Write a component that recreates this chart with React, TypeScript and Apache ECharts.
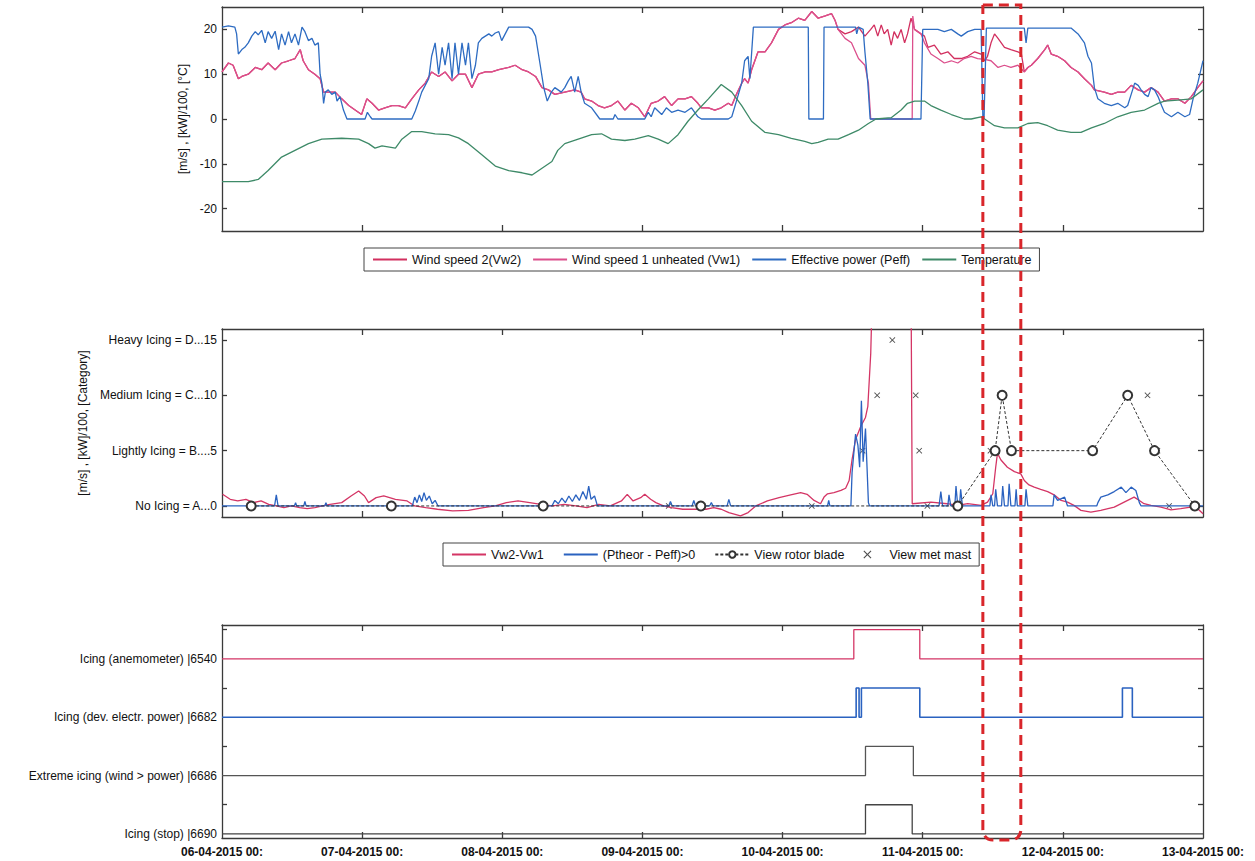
import React, { useEffect, useRef } from 'react';
import * as echarts from 'echarts';

// ---------- data (time in hours since 06-04-2015 00:00) ----------
const dayTicks = [0, 24, 48, 72, 96, 120, 144, 168];
const dayLabels = ['06-04-2015 00:', '07-04-2015 00:', '08-04-2015 00:', '09-04-2015 00:', '10-04-2015 00:', '11-04-2015 00:', '12-04-2015 00:', '13-04-2015 00:'];

const vw2Top = [[0,10.5],[1.1,12.5],[1.9,12],[2.8,9],[3.4,9.5],[4.5,10],[5.7,11.5],[6.8,11],[7.9,12.5],[9.1,11],[10.2,12.5],[11.4,13],[12.5,13.5],[13.4,15.5],[13.9,13],[14.8,11],[15.9,10],[16.8,9],[17.4,6],[18.2,6],[19.4,6],[20.5,4.5],[21.7,3],[22.8,2],[23.9,1],[24.8,4.5],[25.7,3.5],[26.8,2],[27.9,2.5],[29.1,3],[30.2,3],[31.4,2.5],[32.5,4.5],[33.7,6.5],[34.8,8],[35.9,10.5],[37.1,9.5],[38.2,10.5],[39.4,8.5],[40.5,10],[41.7,10],[42.8,7],[43.9,10],[45.1,10.5],[46.2,10.5],[47.4,11],[49.1,11.5],[50.2,12],[51.4,11],[52.5,10.5],[53.7,9.5],[54.8,7],[55.9,6.5],[57,5.5],[58.7,6],[60.4,6.5],[61.5,6],[62.1,4.5],[63.3,4],[64.4,3],[65.5,2.5],[66.7,3],[67.8,4],[69,2],[70.1,3.5],[71.3,2.5],[72.4,0.5],[73.5,3.5],[74.7,4],[75.8,5],[77,3],[78.1,4.5],[79.3,4.5],[80.4,5],[81.5,3.5],[82.1,2.5],[83.3,2.5],[84.4,2],[85.5,2.5],[86.7,3.5],[87.3,3],[88.1,5.5],[89,8],[89.5,9],[90.1,8],[90.7,11],[91.8,15],[93,15],[94.1,17],[95.3,20],[96.4,21],[97.5,21.5],[98.7,22.5],[99.8,22],[101,24],[102.1,22.5],[103.3,23],[104.4,23.5],[105,22],[105.5,20],[106.7,19],[107.8,19.5],[109,20.5],[110.1,18.5],[111.1,20],[111.7,21],[112.3,18.5],[112.9,21],[113.4,19],[114,20],[114.6,16.5],[115.1,19.5],[115.7,18],[116.3,20],[116.9,17],[117.4,19],[118,22.5],[118.6,20],[119.7,19],[120.3,18.5],[120.9,16],[122,16.5],[123.1,14.5],[124.3,15],[125.4,13.5],[126.6,13.5],[127.7,14],[128.9,15],[130,14.5],[130.6,13],[131.1,14],[131.7,17],[132.3,19],[132.9,18],[134,16],[135.1,15.5],[136.3,15],[136.9,14.5],[137.4,10.5],[138,11.5],[138.6,12],[139.7,13.5],[140.9,15.5],[141.4,16.5],[142,14.5],[143.1,14],[144.3,13],[145.4,11.5],[146.6,10.5],[147.7,9],[148.9,7.5],[149.4,6.5],[151.1,6],[152.3,5.5],[153.4,6],[154.6,6],[155.7,7.5],[156.9,6.5],[158,6],[159.1,7],[160.3,6],[161.4,4],[162.6,4.5],[163.7,4.5],[164.9,3.5],[166,5],[167.1,7],[168,8.5]];

// part of the unheated anemometer (Vw1) that departs from Vw2
const vw1Iced = [[105.5,20],[106.7,18],[107.8,17],[109,13.5],[110.1,12],[110.7,8],[111.1,0],[118.2,0],[118.3,23],[118.6,20],[119.7,19],[120.3,17],[121.4,14.5],[122.6,13.5],[123.7,12.5],[124.9,13],[126,12.5],[127.1,13.5],[128.3,14],[129.4,13.5],[130.6,13.3],[131.7,13],[132.9,11.5],[134,12],[135.1,11.5],[136.3,12],[137.4,10.5]];

const peffTop = [[0,20.5],[1.1,20.8],[2.2,20.5],[2.5,19],[2.8,14.5],[3.4,15.5],[3.9,16],[4.5,17],[5.1,18.5],[5.7,19.5],[6.2,18.8],[6.8,19.8],[7.4,17],[7.9,19.5],[8.5,18],[9.1,19.6],[9.7,15.5],[10.2,19],[10.8,16.5],[11.4,19.5],[11.9,17],[12.5,19],[13.1,16.5],[13.7,20.5],[14.2,19.5],[14.8,17.5],[15.4,18],[15.9,16.5],[16.5,17],[16.8,10],[17.1,8],[17.4,3.5],[17.7,6],[18.2,6.5],[18.8,5.5],[19.4,6],[19.7,4],[20.2,5],[20.8,2],[21.4,0],[24.5,0],[24.9,1.5],[25.4,0.5],[25.7,0],[32.5,0],[33.1,1.8],[33.7,4],[34.2,6],[34.8,7.5],[35.4,9],[35.9,14],[36.5,17],[37.1,10],[37.7,16],[38.2,12],[38.8,17],[39.4,9],[39.9,17],[40.5,10],[41.1,17],[41.7,12],[42.2,17],[42.8,9],[43.4,12],[43.9,17],[44.5,18],[45.1,18.5],[45.7,19],[46.2,18.5],[46.8,19.2],[47.4,19.5],[47.9,17.5],[49.1,20.5],[52.5,20.5],[53.1,20],[53.7,18.5],[54.5,12],[55.1,7],[55.7,4],[56.4,6],[57,7],[58.1,6],[58.7,7],[59.3,8.5],[59.8,9.5],[60.4,6],[61,9.5],[61.5,6],[62.1,3.5],[63.3,2.5],[64.7,0],[67,0],[67.3,1],[67.8,0],[72.4,0],[73,1.5],[73.5,0.5],[74.1,2.5],[75.3,1],[76.1,2.5],[77,1.5],[78.1,2],[79.3,1.5],[80.4,2.5],[81.5,0.5],[82.1,0],[86.7,0],[87.3,0.5],[88.1,4],[89,8],[89.5,13],[90.1,14],[90.4,9],[91,20.5],[100.4,20.5],[100.5,0],[103,0],[103.1,20.5],[108.5,20.5],[108.7,19],[109,20.5],[109.8,20],[110.1,15],[110.6,8],[111,0],[119.7,0],[120,20],[120.9,20],[122.6,20],[123.7,19.5],[124.9,20],[126,19],[126.6,18.5],[127.7,19.5],[128.9,20],[130,20],[130.3,0.5],[130.5,0],[130.9,20.3],[137.4,20.3],[137.7,17],[138,20.3],[145.4,20.3],[146.6,19],[147.7,17],[148.3,14],[148.9,12.5],[149.4,7],[150,4.5],[151.1,3.5],[152.3,3],[153.4,3.5],[154.6,2.5],[155.1,3],[155.7,5.5],[156.3,8],[156.9,7.5],[157.4,6.5],[158,5.5],[158.6,5],[159.1,7],[159.7,6.5],[160.3,5],[160.9,3],[161.4,1.5],[162.6,0.5],[163.7,1.5],[164.9,0.5],[165.7,1],[166.3,4.5],[167.1,8],[168,13]];

const tempTop = [[0,-14],[2.2,-14],[4.5,-14],[6.2,-13.5],[7.9,-11.5],[10.2,-8.5],[12.5,-7],[14.8,-5.5],[17.1,-4.5],[20.5,-4.3],[23.4,-4.5],[25.1,-5.5],[26.2,-6.5],[27.4,-6],[29.7,-6.5],[30.8,-4.5],[32.5,-2.8],[34.2,-2.8],[36.5,-3.3],[38.8,-3.5],[40.5,-4.2],[42.2,-5.5],[44.5,-8],[46.8,-10.5],[49.1,-11.5],[51.4,-12],[53.1,-12.5],[54.8,-11],[56.5,-9.5],[57.5,-7],[58.7,-5.5],[61,-4.5],[63.3,-3.5],[65,-3.3],[66.7,-4.5],[69,-4.8],[70.7,-4.5],[73,-3.7],[74.7,-4.5],[76.4,-5.5],[78.1,-3.5],[79.8,-0.5],[81.5,2],[83.3,4.5],[85.5,7.7],[87.3,6],[89,3],[90.7,-0.5],[93,-3],[95.3,-3.5],[97.5,-4.3],[99.8,-5],[101,-5.5],[102.1,-5.2],[103.8,-4.5],[105.5,-4.5],[107.3,-3.5],[109,-2.5],[110.7,-1],[112,0],[114.6,0.3],[116.3,2],[117.4,3.5],[118.6,4],[120.3,4],[121.4,3],[123.1,2],[124.9,1],[127.1,0],[128.3,0],[130,0.5],[130.6,0],[132.3,-1.5],[134,-2],[136.3,-2],[138,-1],[139.7,-0.8],[141.4,-1.5],[143.1,-2.5],[145.4,-3],[147.1,-3],[148.9,-2],[151.1,-1],[153.4,0.5],[155.7,1.5],[158,2],[160.3,3.5],[161.4,4],[163.7,4.2],[166,4.5],[168,6.5]];

const diffVw = [[0.1,1.05],[1.4,0.6],[2.7,0.45],[4.1,0.6],[5.4,0.3],[6.7,0.45],[8,0.15],[9.3,0],[10.6,-0.15],[11.9,0],[13.3,-0.15],[14.6,-0.25],[15.9,-0.15],[17.2,0],[18.5,0.15],[20.5,0.3],[22.1,0.9],[23.4,1.35],[24.4,0.9],[25.1,0.3],[26.4,0.75],[27.7,0.9],[29.7,0.6],[31.7,0.45],[33,0],[34.9,-0.15],[36.9,-0.3],[39.5,-0.45],[42.2,-0.4],[44.8,-0.15],[46.8,0],[48.7,0.3],[50.7,0.45],[52.7,0.3],[54.6,0.15],[56.6,0],[58.6,0.15],[60.6,0],[62.5,-0.15],[64.5,0.15],[66.5,0],[68.4,0.45],[69.4,1.05],[70.4,0.45],[71.7,0.75],[72.4,1.05],[73.4,0.6],[74.3,0.3],[75.6,0],[77,-0.15],[78.9,-0.3],[80.9,-0.3],[82.9,-0.3],[84.2,-0.15],[85.5,-0.3],[86.8,-0.6],[88.8,-0.9],[90.1,-0.6],[91.4,0],[93.4,0.45],[95.4,0.75],[97.4,1],[99.1,1.2],[100.2,1.05],[101.4,0.5],[102.5,0.2],[103.1,0.8],[103.7,1.1],[104.8,1.2],[106,1.4],[106.8,1.6],[107.4,2.3],[107.9,4.2],[108.5,6],[109.4,7.2],[110.2,8],[110.6,9],[111.1,13.8],[111.4,20],[118,20],[118.2,0.2],[121.4,0.35],[124.2,0.2],[126,0.05],[127.7,0.2],[130,0.05],[131.1,0.35],[132,1.1],[132.5,3.5],[132.8,4.75],[133.4,4.15],[134.5,3.5],[135.7,3.1],[136.8,2.9],[137.4,2.3],[138.2,1.9],[139.1,1.7],[140.2,1.5],[141.4,1.3],[142.5,1],[143.7,0.5],[144.8,0.35],[145.9,0.05],[147.1,-0.4],[148.8,-0.55],[150.5,-0.4],[152.8,-0.1],[154.5,0.35],[156.2,0.8],[157.1,0.5],[157.9,0.2],[159.1,0.05],[160.8,-0.1],[162.5,-0.35],[164.2,-0.25],[165.9,-0.1],[167.1,-0.25],[168,-0.7]];

const diffPower = [[0,0],[9,0],[9.3,1],[9.6,0],[12.4,0],[12.6,0.3],[12.8,0],[14,0],[14.2,0.4],[14.4,0],[17.6,0],[17.8,0.3],[18,0],[32.6,0],[33,0.8],[33.4,0.3],[33.8,1],[34.2,0.4],[34.6,1.2],[35,0.5],[35.5,0.9],[36,0.2],[36.5,0.5],[37,0],[56.5,0],[57,0.5],[57.6,0.2],[58.2,0.7],[58.8,0.3],[59.4,0.9],[60,0.4],[60.6,1],[61.2,0.5],[61.8,1.3],[62.4,0.6],[62.8,1.8],[63.2,0.6],[63.8,0.9],[64.3,0],[76.5,0],[76.8,0.4],[77.1,0],[80.5,0],[80.8,0.5],[81.1,0],[83.5,0],[83.8,0.3],[84.1,0],[86.5,0],[86.8,0.6],[87.1,0],[103.7,0],[103.9,0.5],[104.1,0],[107.7,0],[107.9,3],[108.5,6.5],[108.9,5.5],[109.2,3.5],[109.5,9.5],[109.8,4],[110.2,7],[110.5,3],[110.7,0.3],[110.9,0],[122.8,0],[123.1,1.3],[123.4,0],[124.3,0],[124.5,1],[124.8,0],[125.5,0],[125.7,1.8],[126,0],[126.3,0],[126.5,1.5],[126.8,0],[131.5,0],[131.7,1],[132,0],[132.3,0],[132.5,1.5],[132.8,0],[133.5,0],[133.7,1.8],[134,0],[134.6,0],[134.8,2],[135.1,0],[135.8,0],[136,1.5],[136.2,0],[137.5,0],[137.7,1.5],[138,0],[142.3,0],[142.5,1],[143.1,0.5],[144.3,0.8],[144.8,0],[149.8,0],[150,0.3],[150.5,0.8],[151.7,1],[152.8,1.3],[154,1.7],[154.8,1.2],[155.7,1.7],[156.5,1.4],[157.1,0.3],[157.4,0],[168,0]];

const rotorBlade = [[5,0],[29,0],[55,0],[82,0],[126,0],[132.4,5],[133.6,10],[135.2,5],[149.1,5],[155.1,10],[159.7,5],[166.6,0]];
const metMast = [[76.5,0],[101,0],[109.7,5],[112.2,10],[114.8,15],[118.8,10],[119.4,5],[120.8,0],[131.6,5],[133.3,10],[158.5,10],[160.2,5],[162.2,0]];

// status signals: [hour, state 0/1]
const icingAnemometer = [[0,0],[108.2,1],[119.5,0],[168,0]];
const icingPower = [[0,0],[108.6,1],[109.1,0],[109.5,1],[119.5,0],[154.2,1],[155.9,0],[168,0]];
const icingExtreme = [[0,0],[110.2,1],[118.4,0],[168,0]];
const icingStop = [[0,0],[110.2,1],[118.2,0],[168,0]];
const statusLabels = ['Icing (stop) |6690', 'Extreme icing (wind > power) |6686', 'Icing (dev. electr. power) |6682', 'Icing (anemometer) |6540'];

const categoryTicks = [0, 5, 10, 15];
const categoryLabels = ['No Icing = A...0', 'Lightly Icing = B....5', 'Medium Icing = C...10', 'Heavy Icing = D...15'];
const topTicks = [-20, -10, 0, 10, 20];

const highlightWindow = [130.3, 136.8];

// ---------- styling ----------
const FONT = 'Liberation Sans, Arial, sans-serif';
const AX = { color: '#3a3a3a', width: 1.3 };
const innerDayTicks = [24, 48, 72, 96, 120, 144];

function xAx(grid: number, pos: string, labels: boolean) {
  return {
    type: 'value', gridIndex: grid, position: pos, min: 0, max: 168,
    axisLine: { show: true, onZero: false, lineStyle: AX },
    axisTick: { show: true, inside: true, length: 6, customValues: innerDayTicks, lineStyle: AX },
    axisLabel: labels
      ? { show: true, customValues: dayTicks, showMinLabel: true, showMaxLabel: true,
          formatter: (v: number) => dayLabels[Math.round(v / 24)], fontSize: 12, fontWeight: 'bold',
          color: '#111', margin: 8, fontFamily: FONT }
      : { show: false },
    splitLine: { show: false },
  };
}

function yAx(grid: number, pos: string, min: number, max: number, ticks: number[], label: any, name?: string, nameGap?: number) {
  const o: any = {
    type: 'value', gridIndex: grid, position: pos, min, max,
    axisLine: { show: true, onZero: false, lineStyle: AX },
    axisTick: { show: true, inside: true, length: 5, customValues: ticks, lineStyle: AX },
    axisLabel: label ? { show: true, fontSize: 12, color: '#111', margin: 5, fontFamily: FONT, ...label } : { show: false },
    splitLine: { show: false },
  };
  if (name) {
    o.name = name; o.nameLocation = 'middle'; o.nameGap = nameGap; o.nameRotate = 90;
    o.nameTextStyle = { fontSize: 12, color: '#111', fontFamily: FONT };
  }
  return o;
}

function stepData(sig: number[][], level: number) {
  return sig.map(([h, s]) => [h, level + 0.5 * s]);
}

const lineOnly = (name: string) => ({ name, itemStyle: { opacity: 0 } });

export default function App() {
  const ref = useRef<HTMLDivElement>(null);
  useEffect(() => {
    if (!ref.current) return;
    const chart = echarts.init(ref.current, undefined, { renderer: 'svg' });
    const vw1Top = vw2Top.filter(p => p[0] < vw1Iced[0][0])
      .concat(vw1Iced, vw2Top.filter(p => p[0] > vw1Iced[vw1Iced.length - 1][0]));
    const xMark = 'path://M0,1L1,0L5,4L9,0L10,1L6,5L10,9L9,10L5,6L1,10L0,9L4,5Z';
    const legendText = { fontSize: 12.5, color: '#111', fontFamily: FONT };
    const option: any = {
      animation: false,
      backgroundColor: '#fff',
      textStyle: { fontFamily: FONT, color: '#111' },
      grid: [
        { left: 222, top: 7, width: 981, height: 224 },
        { left: 222, top: 329, width: 981, height: 188 },
        { left: 222, top: 625, width: 981, height: 213 },
      ],
      xAxis: [xAx(0, 'bottom', false), xAx(0, 'top', false), xAx(1, 'bottom', false), xAx(1, 'top', false), xAx(2, 'bottom', true), xAx(2, 'top', false)],
      yAxis: [
        yAx(0, 'left', -25, 25, topTicks, { customValues: topTicks }, '[m/s] , [kW]/100, [°C]', 26),
        yAx(0, 'right', -25, 25, topTicks, null),
        yAx(1, 'left', -1, 16, categoryTicks, { customValues: categoryTicks, formatter: (v: number) => categoryLabels[categoryTicks.indexOf(v)] }, '[m/s] , [kW]/100, [Category]', 128),
        yAx(1, 'right', -1, 16, categoryTicks, null),
        yAx(2, 'left', -0.07, 3.58, [0.5, 1.5, 2.5, 3.5], { customValues: [0, 1, 2, 3], formatter: (v: number) => statusLabels[Math.round(v)] }),
        yAx(2, 'right', -0.07, 3.58, [0.5, 1.5, 2.5, 3.5], null),
      ],
      legend: [
        {
          data: [lineOnly('Wind speed 2(Vw2)'), lineOnly('Wind speed 1 unheated (Vw1)'), lineOnly('Effective power (Peff)'), lineOnly('Temperature')],
          left: 364, top: 248, itemWidth: 34, itemHeight: 10, itemGap: 11, padding: [5, 8],
          borderColor: '#444', borderWidth: 1, textStyle: legendText,
        },
        {
          data: [lineOnly('Vw2-Vw1'), lineOnly('(Ptheor - Peff)>0'), 'View rotor blade', 'View met mast'],
          left: 443, top: 543, itemWidth: 34, itemHeight: 8, itemGap: 19, padding: [5, 8],
          borderColor: '#444', borderWidth: 1, textStyle: legendText,
        },
      ],
      series: [
        { name: 'Wind speed 2(Vw2)', type: 'line', xAxisIndex: 0, yAxisIndex: 0, data: vw2Top, symbol: 'none', color: '#d22f5f', lineStyle: { width: 1.3 } },
        { name: 'Wind speed 1 unheated (Vw1)', type: 'line', xAxisIndex: 0, yAxisIndex: 0, data: vw1Top, symbol: 'none', color: '#dc4f8c', lineStyle: { width: 1.3 } },
        { name: 'Effective power (Peff)', type: 'line', xAxisIndex: 0, yAxisIndex: 0, data: peffTop, symbol: 'none', color: '#2e6cc2', lineStyle: { width: 1.3 } },
        { name: 'Temperature', type: 'line', xAxisIndex: 0, yAxisIndex: 0, data: tempTop, symbol: 'none', color: '#3e8a68', lineStyle: { width: 1.3 } },
        { name: 'Vw2-Vw1', type: 'line', xAxisIndex: 2, yAxisIndex: 2, data: diffVw, symbol: 'none', color: '#d43565', lineStyle: { width: 1.3 }, clip: true },
        { name: '(Ptheor - Peff)>0', type: 'line', xAxisIndex: 2, yAxisIndex: 2, data: diffPower, symbol: 'none', color: '#2a62c0', lineStyle: { width: 1.3 }, clip: true },
        { name: 'View rotor blade', type: 'line', xAxisIndex: 2, yAxisIndex: 2, data: rotorBlade, symbol: 'emptyCircle', symbolSize: 9, color: '#333', lineStyle: { width: 1, type: [3, 2] }, itemStyle: { borderWidth: 1 } },
        { name: 'View met mast', type: 'scatter', xAxisIndex: 2, yAxisIndex: 2, data: metMast, symbol: xMark, symbolSize: 6, color: '#222' },
        { name: 'st-anemometer', type: 'line', step: 'end', xAxisIndex: 4, yAxisIndex: 4, data: stepData(icingAnemometer, 3), symbol: 'none', color: '#d43565', lineStyle: { width: 1.3 } },
        { name: 'st-power', type: 'line', step: 'end', xAxisIndex: 4, yAxisIndex: 4, data: stepData(icingPower, 2), symbol: 'none', color: '#2a62c0', lineStyle: { width: 1.6 } },
        { name: 'st-extreme', type: 'line', step: 'end', xAxisIndex: 4, yAxisIndex: 4, data: stepData(icingExtreme, 1), symbol: 'none', color: '#555', lineStyle: { width: 1.3 } },
        { name: 'st-stop', type: 'line', step: 'end', xAxisIndex: 4, yAxisIndex: 4, data: stepData(icingStop, 0), symbol: 'none', color: '#444', lineStyle: { width: 1.3 } },
      ],
    };
    chart.setOption(option);
    const p0 = chart.convertToPixel({ gridIndex: 0 } as any, [highlightWindow[0], 0]) as number[];
    const p1 = chart.convertToPixel({ gridIndex: 0 } as any, [highlightWindow[1], 0]) as number[];
    chart.setOption({
      graphic: [{
        type: 'rect', z: 100,
        shape: { x: p0[0], y: 5, width: p1[0] - p0[0], height: 835, r: [0, 0, 10, 10] },
        style: { fill: 'none', stroke: '#d9262b', lineWidth: 3, lineDash: [10, 6] },
      }],
    });
    return () => chart.dispose();
  }, []);
  return <div ref={ref} style={{ position: 'fixed', left: 0, top: 0, width: 1255, height: 861, background: '#fff' }} />;
}
